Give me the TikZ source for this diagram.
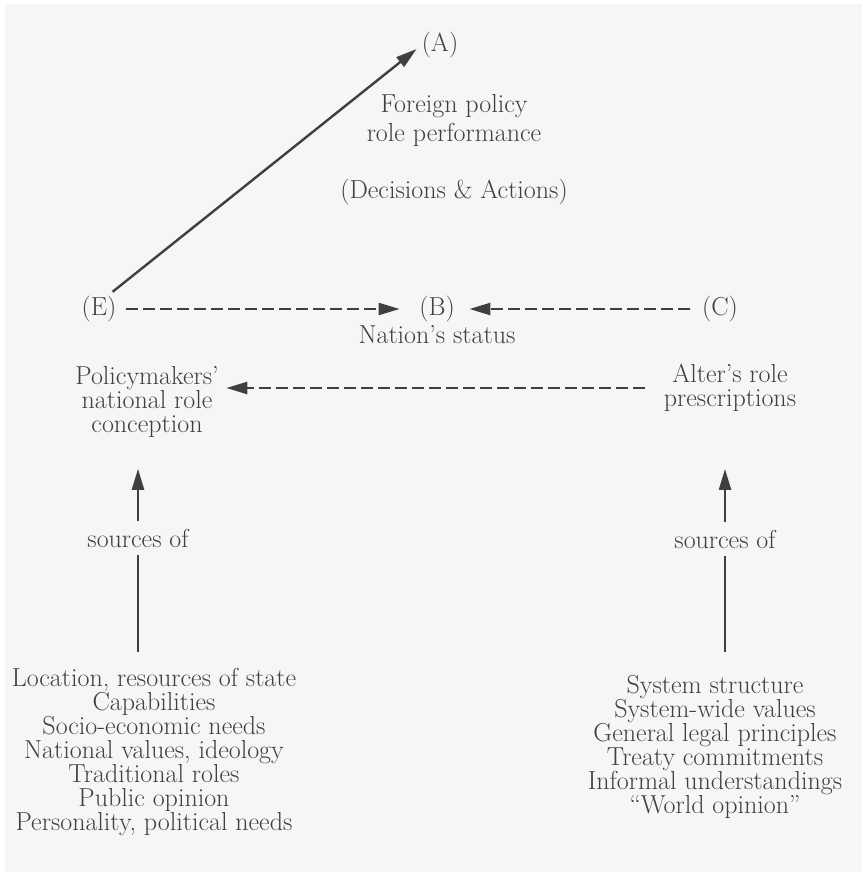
\documentclass[tikz,border=0pt]{standalone}
\usepackage{tikz}
\usetikzlibrary{arrows.meta, positioning}

\definecolor{bggray}{HTML}{F6F6F6}
\definecolor{ink}{HTML}{3F3F3F}

\tikzset{
  lbl/.style={inner sep=0pt, align=center, text=ink, font=\fontsize{26}{24}\selectfont},
  plainline/.style={draw=ink, line width=2.4pt},
  solidarrow/.style={plainline, -{Triangle[length=21pt,width=12pt]}},
  dasharrow/.style={solidarrow, dash pattern=on 12pt off 5pt},
}

\begin{document}
\begin{tikzpicture}[x=1pt, y=-1pt]

        % Background
        \path[use as bounding box, fill=white] (0,0) rectangle (862,872);
        \fill[bggray] (5,4) rectangle (862,872);

        % Role performance
        \node[lbl] (A) at (440,45) {(A)};
        \node[lbl, font=\fontsize{26}{29}\selectfont] (perf) at (454,121) {Foreign policy\\role performance};
        \node[lbl] (dec) at (454,192) {(Decisions \& Actions)};

        % Status row
        \node[lbl] (E) at (99,309) {(E)};
        \node[lbl] (B) at (437,309) {(B)};
        \node[lbl] (C) at (720,309) {(C)};
        \node[lbl] (status) at (437,335) {Nation's status};

        \draw[solidarrow] ([shift={(-4,-4)}]E.north east) -- ([shift={(-5,4)}]A.west);
        \draw[dasharrow, shorten <=9.5pt, shorten >=19.5pt] (E) -- (B);
        \draw[dasharrow, shorten <=11.5pt, shorten >=14.5pt] (C) -- (B);

        % Role conception and prescriptions
        \node[lbl] (npc) at (147,402) {Policymakers'\\national role\\conception};
        \node[lbl] (arp) at (730,388) {Alter's role\\prescriptions};
        \draw[dasharrow, shorten <=19pt, shorten >=7.5pt] (arp.west) -- (arp.west -| npc.east);

        % Sources (left)
        \node[lbl, minimum height=33pt] (srcL) at (138,538) {sources of};
        \coordinate (baseL) at (138,652);
        \draw[plainline] (baseL) -- (srcL.south);
        \draw[solidarrow, shorten >=31pt] (srcL.north) -- (srcL.north |- npc.south);
        \node[lbl] (listL) at (154,752) {Location, resources of state\\Capabilities\\Socio-economic needs\\National values, ideology\\Traditional roles\\Public opinion\\Personality, political needs};

        % Sources (right)
        \node[lbl, minimum height=33pt] (srcR) at (725,539) {sources of};
        \coordinate (baseR) at (725,652);
        \draw[plainline] (baseR) -- (srcR.south);
        \draw[solidarrow, shorten >=57pt] (srcR.north) -- (srcR.north |- arp.south);
        \node[lbl] (listR) at (715,747) {System structure\\System-wide values\\General legal principles\\Treaty commitments\\Informal understandings\\``World opinion''};

\end{tikzpicture}
\end{document}
